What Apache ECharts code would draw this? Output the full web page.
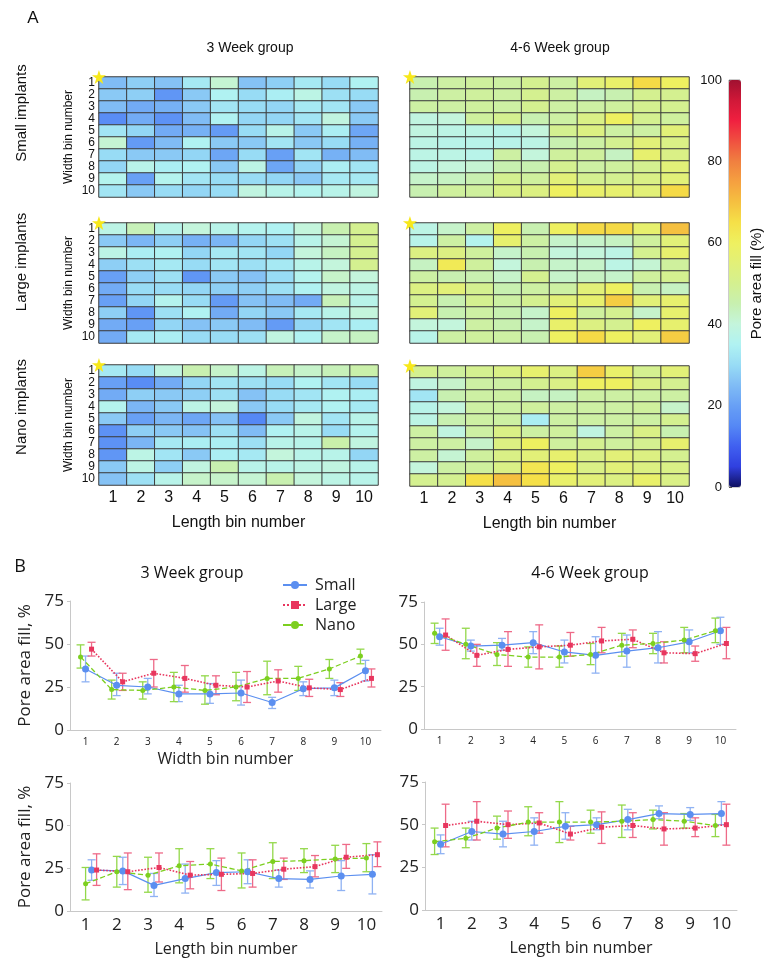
<!DOCTYPE html>
<html><head><meta charset="utf-8">
<script src="https://cdn.jsdelivr.net/npm/echarts@6/dist/echarts.min.js"></script>
<style>html,body{margin:0;padding:0;background:#fff}#c{width:765px;height:963px}</style>
</head><body><div id="c"></div><script>
// ---------- DATA ----------
const binLabels = ['1','2','3','4','5','6','7','8','9','10'];
const colorTicks = [0, 20, 40, 60, 80, 100];

// Heatmaps: rows = width bin 1..10 (top to bottom), cols = length bin 1..10
const heatSmall3 = [
 [25,28,26,33,41,26,28,33,30,35],
 [27,28,18,27,35,30,34,38,31,30],
 [25,22,23,27,32,30,29,33,32,27],
 [16,22,17,25,35,29,29,32,39,27],
 [32,29,22,23,19,30,37,27,34,21],
 [41,19,25,35,27,27,32,27,30,23],
 [30,27,27,29,21,30,20,32,23,25],
 [29,37,34,35,27,38,21,29,34,32],
 [36,20,36,32,30,30,29,27,33,33],
 [32,27,30,29,30,39,37,36,37,39]];
const heatSmall46 = [
 [45,47,48,47,50,47,55,58,66,60],
 [45,47,48,47,50,47,43,45,50,50],
 [47,47,48,47,50,47,47,48,50,50],
 [39,40,48,50,45,47,52,60,50,48],
 [39,38,38,37,40,50,53,47,47,55],
 [38,37,37,37,38,45,47,50,55,52],
 [38,38,37,47,40,48,48,43,57,52],
 [38,40,41,45,45,50,47,48,50,55],
 [42,43,45,50,48,55,50,50,52,55],
 [45,48,48,52,53,60,58,57,55,66]];
const heatLarge3 = [
 [38,44,37,40,37,36,35,40,45,50],
 [27,24,28,23,24,29,31,37,41,50],
 [38,34,35,29,33,32,29,40,43,50],
 [28,31,33,30,32,31,33,37,40,50],
 [20,28,31,18,27,26,30,36,42,40],
 [22,30,30,29,28,28,31,35,39,38],
 [20,29,36,30,19,26,25,22,44,37],
 [28,18,31,35,22,29,27,33,37,40],
 [22,20,29,26,27,25,19,29,32,34],
 [22,33,34,30,30,31,39,35,42,43]];
const heatLarge46 = [
 [38,42,47,60,45,60,66,66,57,70],
 [37,47,36,57,47,42,42,43,48,55],
 [53,53,48,42,45,40,40,38,50,57],
 [43,62,48,40,45,42,42,38,41,48],
 [47,45,45,42,50,42,43,42,48,50],
 [53,55,50,45,47,47,55,60,45,43],
 [50,45,50,47,50,55,57,68,55,57],
 [55,45,47,45,42,60,48,50,42,57],
 [40,40,47,45,42,58,53,50,60,57],
 [37,47,48,47,45,60,66,60,55,68]];
const heatNano3 = [
 [33,30,39,45,42,38,44,42,44,46],
 [20,16,22,29,32,31,30,35,32,30],
 [22,28,27,28,31,26,30,32,35,34],
 [36,24,27,38,40,27,30,33,35,33],
 [27,20,24,21,26,15,27,39,32,37],
 [17,28,27,26,31,25,35,37,30,36],
 [17,24,33,34,34,31,37,37,46,39],
 [18,38,32,27,34,33,40,37,37,29],
 [27,38,28,39,45,37,37,38,39,37],
 [26,31,37,42,42,41,45,40,38,37]];
const heatNano46 = [
 [50,48,50,52,57,53,68,58,50,55],
 [39,42,47,47,50,52,60,60,52,50],
 [32,45,47,47,43,43,47,47,47,47],
 [37,40,47,47,48,47,47,47,48,42],
 [38,45,47,47,34,47,47,47,47,50],
 [47,39,47,52,47,48,39,47,52,45],
 [47,47,42,53,60,48,50,48,50,57],
 [47,41,48,52,55,57,52,55,53,50],
 [40,47,48,52,63,60,52,55,53,52],
 [50,50,65,70,65,58,55,53,58,52]];

// Line charts: [mean, low, high] per bin
const groupNames = ['Small','Large','Nano'];
const w3Small = [[35.5,28,43],[26,20,33],[25,21,30],[21,16.5,26],[21,15.5,27],[21.5,14.5,29],[16,12.5,19],[24,20,28],[24.5,20,29],[34.5,28.5,40.5]];
const w3Large = [[47,43,51],[28,23,33],[33,25,41],[30,22,37.5],[26,20.5,31.5],[25,16,34],[28.5,22,35],[24.5,19.5,29.5],[23.5,19.5,27.5],[30,25,35.5]];
const w3Nano  = [[42.5,36,49.5],[23.5,18,29],[23,18,28],[25,16.5,33.5],[23,15,31.5],[25,17,33.5],[30,20.5,40],[30,23,37],[35.5,30,41],[43,38.5,47]];
const w46Small = [[54.5,49.5,59.5],[49,46,52.5],[49.5,46.5,53.5],[51,44.5,57.5],[45.5,39,52.5],[43.5,33,54.5],[46,36.5,55.5],[48,39,57.5],[51.5,45,58.5],[58,50,66]];
const w46Large = [[55.5,46.5,65],[43.5,37,50],[47,37,57.5],[48.5,35.5,61.5],[49.5,43,57],[52,45,60],[53,48,58.5],[45,39,51.5],[44.5,40,49],[50.5,41.5,60]];
const w46Nano  = [[56.5,50.5,62.5],[50,41.5,59.5],[44,37.5,51],[42.5,36.5,48.5],[42.5,36.5,49],[44,38,50.5],[49.5,43,56.5],[50.5,44.5,56.5],[52.5,45,60],[58,51,65.5]];
const l3Small = [[24,18,30],[23.5,15.5,31.5],[15,8.5,22],[19,10.5,27.5],[22.5,15,29.5],[23,16,30],[19,14,24],[18.5,13.5,23.5],[20.5,12,29.5],[21.5,10,33]];
const l3Large = [[24,15,33.5],[23,12.5,34],[25.5,17,34],[21,13,29],[21.5,12,31],[22,14,30],[24.5,18.5,31],[26,20,32.5],[31.5,25,39],[33,26,40.5]];
const l3Nano  = [[16,6.5,25.5],[23,14,32],[21,11,31.5],[26.5,16.5,36.5],[27.5,19,36.5],[23.5,13.5,34],[29,19,40],[29.5,22.5,36.5],[30.5,22.5,38.5],[31,23,39.5]];
const l46Small = [[38.5,33,44],[46,41,52],[44.5,37,52],[46,38,54],[49,41.5,57],[50,47,54],[53,47,59],[56.5,53.5,61],[56,52.5,60],[56.5,50,63.5]];
const l46Large = [[49.5,37,62],[52,41,63.5],[50,42,58],[51,45,57],[44.5,41,49],[48.5,39,57.5],[49.5,42.5,57],[47.5,38,57],[48,43,54],[50,38,62]];
const l46Nano  = [[40,32.5,48],[42,36.5,48],[48,41.5,55],[51.5,43.5,60.5],[51.5,39.5,63.5],[51.5,45,58.5],[52,42.5,61.5],[53,47.5,58.5],[52,48,56.5],[49.5,43,56]];
const yTicks = [0, 25, 50, 75];

// ---------- BUILD ----------
const FA = 'Liberation Sans, Arial, sans-serif';
const FB = 'Open Sans, Noto Sans, sans-serif';
const grids = [], xAxes = [], yAxes = [], series = [];

const heatPanels = [heatSmall3, heatSmall46, heatLarge3, heatLarge46, heatNano3, heatNano46];
const heatPos = [[99,77],[410,77],[99,223],[410,223],[99,365],[410,366]];
const starPath = 'path://M12,0 L14.9,8.6 L24,8.6 L16.6,14 L19.4,22.8 L12,17.4 L4.6,22.8 L7.4,14 L0,8.6 L9.1,8.6 Z';
heatPanels.forEach((panel, k) => {
  const gi = grids.length;
  grids.push({left: heatPos[k][0], top: heatPos[k][1], width: 279, height: 120});
  const bottomRow = k >= 4, leftCol = k % 2 === 0;
  xAxes.push({type:'category', gridIndex: gi, data: binLabels, position:'bottom',
    axisLine:{show:false}, axisTick:{show:false}, splitLine:{show:false},
    axisLabel:{show: bottomRow, interval:0, fontSize:16, color:'#111', fontFamily:FA, margin:5},
    name: bottomRow ? 'Length bin number' : '', nameLocation:'middle', nameGap:30,
    nameTextStyle:{fontSize:16, color:'#111', fontFamily:FA}});
  yAxes.push({type:'category', gridIndex: gi, data: binLabels, inverse:true,
    axisLine:{show:false}, axisTick:{show:false}, splitLine:{show:false},
    axisLabel:{show: leftCol, interval:0, fontSize:12, color:'#111', fontFamily:FA, margin:4, lineHeight:11},
    name: leftCol ? 'Width bin number' : '', nameLocation:'middle', nameGap:24,
    nameTextStyle:{fontSize:12, color:'#111', fontFamily:FA}});
  const data = [];
  panel.forEach((row, r) => row.forEach((v, c) => data.push([binLabels[c], binLabels[r], v])));
  series.push({type:'heatmap', xAxisIndex: gi, yAxisIndex: gi, data,
    itemStyle:{borderColor:'#3c3c3c', borderWidth:1},
    emphasis:{disabled:true},
    markPoint:{symbol: starPath, symbolSize: 14, symbolOffset:[-14,-6], silent:true,
      itemStyle:{color:'#f7e81a'}, label:{show:false},
      data:[{coord:[binLabels[0], binLabels[0]]}]}
  });
});
const nHeat = series.length;

const groupStyle = [
  {color:'#5b8ff0', err:'#8fb2f3', symbol:'circle', size:7, type:'solid', width:1.2},
  {color:'#e8365e', err:'#ee6a88', symbol:'rect', size:5, type:'dotted', width:1.6},
  {color:'#7ccf1f', err:'#93d84a', symbol:'circle', size:5, type:'dashed', width:1.3}
];
const lineCharts = [
  {pos:{left:70, top:601, width:311, height:129}, data:[w3Small,w3Large,w3Nano], shift:[0,6,-5], xFont:10, xMargin:7, xName:'Width bin number', xGap:21, yName:true},
  {pos:{left:424, top:602, width:312, height:127}, data:[w46Small,w46Large,w46Nano], shift:[0,6,-5], xFont:10, xMargin:7, xName:'', xGap:21, yName:false},
  {pos:{left:70, top:783, width:312, height:128}, data:[l3Small,l3Large,l3Nano], shift:[6,11,0], xFont:17, xMargin:6, xName:'Length bin number', xGap:30, yName:true},
  {pos:{left:425, top:782, width:312, height:128}, data:[l46Small,l46Large,l46Nano], shift:[0,5,-6], xFont:17, xMargin:6, xName:'Length bin number', xGap:30, yName:false}
];
function errRender(params, api) {
  const x = api.value(0), lo = api.value(1), hi = api.value(2);
  const p1 = api.coord([x, hi]), p2 = api.coord([x, lo]);
  const hw = 4;
  const st = {stroke: api.visual('color'), lineWidth: 1.3};
  return {type:'group', children:[
    {type:'line', shape:{x1:p1[0], y1:p1[1], x2:p2[0], y2:p2[1]}, style:st},
    {type:'line', shape:{x1:p1[0]-hw, y1:p1[1], x2:p1[0]+hw, y2:p1[1]}, style:st},
    {type:'line', shape:{x1:p2[0]-hw, y1:p2[1], x2:p2[0]+hw, y2:p2[1]}, style:st}
  ]};
}
lineCharts.forEach((lc) => {
  const gi = grids.length;
  grids.push(lc.pos);
  xAxes.push({type:'category', gridIndex: gi, data: binLabels, boundaryGap:true,
    axisLine:{lineStyle:{color:'#c8c8c8'}}, axisTick:{alignWithLabel:true, length:3, lineStyle:{color:'#c8c8c8'}},
    axisLabel:{interval:0, fontSize: lc.xFont, color:'#222', fontFamily:FB, margin: lc.xMargin},
    name: lc.xName, nameLocation:'middle', nameGap: lc.xGap,
    nameTextStyle:{fontSize:16, color:'#222', fontFamily:FB}});
  const yi = yAxes.length;
  yAxes.push({type:'value', gridIndex: gi, min: yTicks[0], max: yTicks[yTicks.length-1], interval: yTicks[1]-yTicks[0],
    axisLine:{show:true, lineStyle:{color:'#c8c8c8'}}, axisTick:{show:true, length:3, lineStyle:{color:'#c8c8c8'}},
    splitLine:{show:false},
    axisLabel:{fontSize:17, color:'#222', fontFamily:FB, margin:6},
    name: lc.yName ? 'Pore area fill, %' : '', nameLocation:'middle', nameGap:36,
    nameTextStyle:{fontSize:17, color:'#222', fontFamily:FB}});
  const unit = lc.pos.width / binLabels.length;
  lc.data.forEach((arr, s) => {
    const off = lc.shift[s] / unit;
    const xi = xAxes.length;
    xAxes.push({type:'value', gridIndex: gi, show:false, min: 0.5 - off, max: binLabels.length + 0.5 - off});
    const st = groupStyle[s];
    series.push({type:'custom', name: groupNames[s] + ' error', xAxisIndex: xi, yAxisIndex: yi,
      renderItem: errRender, itemStyle:{color: st.err}, z:2, silent:true,
      encode:{x:0, y:[1,2]},
      data: arr.map((d, i) => [Number(binLabels[i]), d[1], d[2]])});
    series.push({type:'line', name: groupNames[s], xAxisIndex: xi, yAxisIndex: yi, z:3,
      symbol: st.symbol, symbolSize: st.size, showSymbol:true,
      itemStyle:{color: st.color}, lineStyle:{color: st.color, type: st.type, width: st.width},
      emphasis:{disabled:true}, animation:false,
      data: arr.map((d, i) => [Number(binLabels[i]), d[0]])});
  });
});

// colorbar axis
const cbGrid = grids.length;
grids.push({left:729, top:80, width:12, height:407, show:true, borderColor:'#555', borderWidth:0.6});
xAxes.push({type:'value', gridIndex: cbGrid, show:false, min:0, max:1});
yAxes.push({type:'value', gridIndex: cbGrid, position:'left', min: colorTicks[0], max: colorTicks[colorTicks.length-1], interval: colorTicks[1]-colorTicks[0],
  axisLine:{show:false}, axisTick:{show:true, inside:true, length:3, lineStyle:{color:'#555'}}, splitLine:{show:false},
  axisLabel:{fontSize:13, color:'#111', fontFamily:FA, margin:7}});
yAxes.push({type:'value', gridIndex: cbGrid, position:'right', min:0, max:100, axisLine:{show:false}, axisTick:{show:false},
  axisLabel:{show:false}, splitLine:{show:false},
  name:'Pore area fill (%)', nameLocation:'middle', nameGap:9, nameRotate:90,
  nameTextStyle:{fontSize:15, color:'#111', fontFamily:FA, verticalAlign:'top'}});

const textG = (t, x, y, size, rot, fam) => ({type:'text', x, y, rotation: rot || 0, silent:true,
  style:{text:t, fontSize:size, fontFamily: fam || FA, fill:'#111', align:'center', verticalAlign:'middle'}});

const option = {
  animation:false,
  backgroundColor:'#fff',
  grid: grids, xAxis: xAxes, yAxis: yAxes, series,
  visualMap:{type:'continuous', min:0, max:100, dimension:2, seriesIndex: Array.from({length:nHeat}, (_, i) => i),
    left:729, top:80, itemWidth:12, itemHeight:407, padding:0, calculable:false, text:null, showLabel:false,
    inRange:{color:['#101060','#3040e0','#4060f0','#5588f5','#68a0f5','#80bcf5','#98dcf5','#b0f2f2','#c4f5dc','#c8f0b0','#d4f090','#e2f078','#eef060','#f5e048','#f5c040','#f5a040','#f08040','#f05040','#f02040','#d01838','#a01030']}},
  legend:{show:true, orient:'vertical', left:277, top:572, itemWidth:24, itemHeight:10, itemGap:4,
    data: groupNames, textStyle:{fontSize:16, color:'#222', fontFamily:FB, padding:[0,0,0,3]}},
  graphic:[
    textG('A', 33, 18, 17),
    textG('3 Week group', 250, 48, 14),
    textG('4-6 Week group', 560, 48, 14),
    textG('Small implants', 22, 113, 15, Math.PI/2),
    textG('Large implants', 22, 262, 15, Math.PI/2),
    textG('Nano implants', 22, 407, 15, Math.PI/2),
    textG('B', 20, 567, 18, 0, FB),
    textG('3 Week group', 192, 573, 16, 0, FB),
    textG('4-6 Week group', 590, 573, 16, 0, FB)
  ]
};
const chart = echarts.init(document.getElementById('c'), null, {renderer:'canvas'});
chart.setOption(option);
</script></body></html>
